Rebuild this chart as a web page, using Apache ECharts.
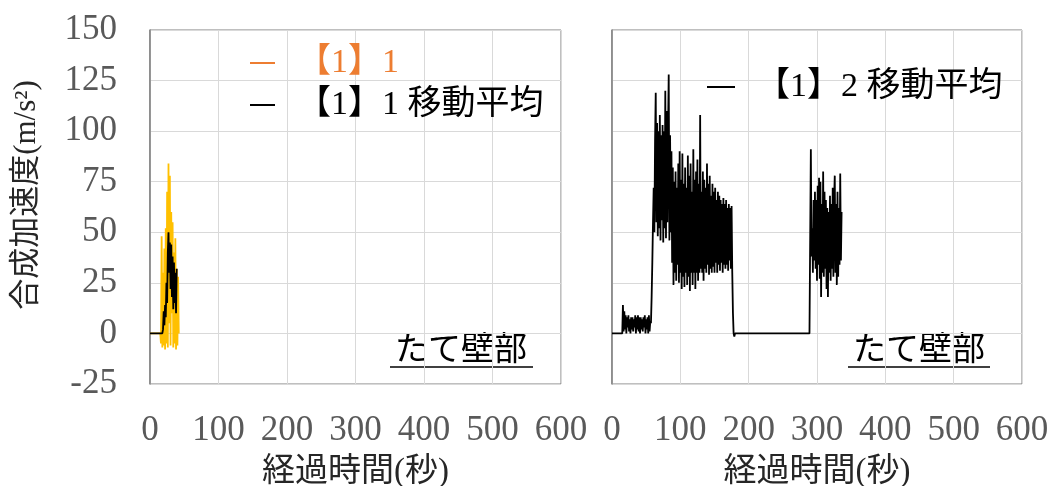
<!DOCTYPE html>
<html>
<head>
<meta charset="utf-8">
<script src="https://cdn.jsdelivr.net/npm/echarts@6/dist/echarts.min.js"></script>
<style>
  html, body { margin: 0; padding: 0; background: #fff; }
  #chart { width: 1053px; height: 486px; }
</style>
</head>
<body>
<div id="chart"></div>
<script>
// 軸の範囲
const X_MIN = 0, X_MAX = 600, X_STEP = 100;
const Y_MIN = -25, Y_MAX = 150, Y_STEP = 25;

// 左: 【1】1 (1秒ごと, 16秒から)
const leftRawStart = 16;
const leftRaw = [-5, 48, -7, 30, -6, 42, -8, 52, -5, 70, -7, 84, 5, 78, -6, 60, 10, 55, -7, 40, -5, 47, -8, 32, -6, 28, 0];
// 左: 【1】1 移動平均 (19秒から)
const leftAvgStart = 19;
const leftAvg = [2, 11, 4, 14, 8, 25, 15, 40, 50, 30, 45, 22, 44, 18, 38, 12, 35, 15, 30, 10, 32];

// 右: 【1】2 移動平均
const rightLowStart = 16;
const rightLow = [14, 1, 11, 2, 9, 0, 8, 3, 9, 1, 7, 0, 8, 2, 8, 1, 7, 3, 9, 0, 8, 2, 9, 1, 8, 0, 8, 2, 7, 1, 8, 3, 9, 0, 7, 2, 8, 0, 9, 1, 6];
const rightMainStart = 57;
const rightMain = [
  5, 18, 35, 55, 72, 50, 95, 119, 55, 104,
  48, 100, 52, 108, 46, 98, 56, 103, 45, 100,
  52, 120, 47, 110, 55, 100, 128, 46, 98, 50,
  90, 35, 82, 24, 75, 30, 80, 26, 72, 34,
  84, 25, 90, 30, 76, 22, 89, 28, 74, 23,
  82, 30, 72, 24, 88, 28, 78, 21, 84, 30,
  70, 24, 91, 30, 76, 22, 80, 30, 86, 26,
  74, 30, 108, 32, 70, 30, 80, 26, 76, 32,
  72, 30, 84, 34, 74, 29, 78, 32, 68, 30,
  74, 33, 70, 30, 72, 35, 66, 30, 70, 34,
  68, 31, 66, 35, 64, 30, 67, 34, 64, 32,
  66, 34, 62, 31, 64, 36, 62, 32, 63, 30,
  10, 0, -1.5, 0
];
const rightIdle = [[181, 0], [289, 0]];
const rightLastStart = 290;
const rightLast = [
  0, 91, 38, 52, 30, 66, 36, 70, 32, 66,
  26, 73, 34, 77, 27, 75, 18, 64, 30, 80,
  28, 70, 32, 66, 22, 62, 18, 60, 30, 68,
  26, 64, 32, 72, 28, 66, 78, 30, 64, 24,
  70, 28, 62, 34, 79, 36, 60
];

function sampled(start, vals) {
  return vals.map((v, i) => [start + i, v]);
}

const SERIF = "'Liberation Serif', 'Noto Sans CJK JP', serif";
const gold = '#FFC000';
const orange = '#ED7D31';

const chart = echarts.init(document.getElementById('chart'));

function xAx(idx) {
  return {
    type: 'value', gridIndex: idx, min: X_MIN, max: X_MAX, interval: X_STEP,
    axisLine: { show: false }, axisTick: { show: false },
    axisLabel: { fontFamily: SERIF, fontSize: 35, color: '#595959', margin: 29 },
    splitLine: { lineStyle: { color: '#d9d9d9', width: 1 } },
    name: '経過時間(秒)', nameLocation: 'middle', nameGap: 72,
    nameTextStyle: { fontFamily: SERIF, fontSize: 33, color: '#262626' }
  };
}
function yAx(idx, labels) {
  return {
    type: 'value', gridIndex: idx, min: Y_MIN, max: Y_MAX, interval: Y_STEP,
    axisLine: { show: true, lineStyle: { color: '#7f7f7f', width: 1.5 } },
    axisTick: { show: false },
    axisLabel: { show: labels, fontFamily: SERIF, fontSize: 35, color: '#595959', margin: 33 },
    splitLine: { lineStyle: { color: '#d9d9d9', width: 1 } }
  };
}

chart.setOption({
  animation: false,
  grid: [
    { left: 150, top: 30, width: 411, height: 354, outerBoundsMode: 'none', show: true, borderColor: '#7f7f7f', borderWidth: 1 },
    { left: 612, top: 30, width: 410, height: 354, outerBoundsMode: 'none', show: true, borderColor: '#7f7f7f', borderWidth: 1 }
  ],
  xAxis: [xAx(0), xAx(1)],
  yAxis: [yAx(0, true), yAx(1, false)],
  legend: [
    {
      left: 245, top: 41, orient: 'vertical', icon: 'rect', itemWidth: 25, itemHeight: 2, itemGap: 8,
      textStyle: { fontFamily: SERIF, fontSize: 34, color: '#000', padding: [0, 0, 0, 17] },
      data: [
        { name: '【1】1', itemStyle: { color: orange }, textStyle: { color: orange } },
        { name: '【1】1 移動平均', itemStyle: { color: '#000' } }
      ]
    },
    {
      left: 702, top: 65, orient: 'vertical', icon: 'rect', itemWidth: 28, itemHeight: 2,
      textStyle: { fontFamily: SERIF, fontSize: 34, color: '#000', padding: [0, 0, 0, 16] },
      data: [{ name: '【1】2 移動平均', itemStyle: { color: '#000' } }]
    }
  ],
  graphic: [
    {
      type: 'text', x: 27, y: 195, rotation: Math.PI / 2,
      style: { text: '合成加速度(m/s²)', font: "31px " + SERIF, fill: '#262626', textAlign: 'center', textVerticalAlign: 'middle' }
    },
    { type: 'text', x: 461, y: 351, style: { text: 'たて壁部', font: "33px " + SERIF, fill: '#000', textAlign: 'center', textVerticalAlign: 'middle' } },
    { type: 'line', shape: { x1: 390, y1: 367, x2: 533, y2: 367 }, style: { stroke: '#000', lineWidth: 1.5 } },
    { type: 'text', x: 919, y: 351, style: { text: 'たて壁部', font: "33px " + SERIF, fill: '#000', textAlign: 'center', textVerticalAlign: 'middle' } },
    { type: 'line', shape: { x1: 848, y1: 367, x2: 990, y2: 367 }, style: { stroke: '#000', lineWidth: 1.5 } }
  ],
  series: [
    {
      name: '【1】1', type: 'line', xAxisIndex: 0, yAxisIndex: 0, showSymbol: false,
      itemStyle: { color: gold }, lineStyle: { color: gold, width: 1.8 },
      data: [[0, 0], [15, 0]].concat(sampled(leftRawStart, leftRaw))
    },
    {
      name: '【1】1 移動平均', type: 'line', xAxisIndex: 0, yAxisIndex: 0, showSymbol: false,
      itemStyle: { color: '#000' }, lineStyle: { color: '#000', width: 1.8 },
      data: [[0, 0], [18, 0]].concat(sampled(leftAvgStart, leftAvg))
    },
    {
      name: '【1】2 移動平均', type: 'line', xAxisIndex: 1, yAxisIndex: 1, showSymbol: false,
      itemStyle: { color: '#000' }, lineStyle: { color: '#000', width: 1.8 },
      data: [[0, 0], [15, 0]]
        .concat(sampled(rightLowStart, rightLow))
        .concat(sampled(rightMainStart, rightMain))
        .concat(rightIdle)
        .concat(sampled(rightLastStart, rightLast))
    }
  ]
});
</script>
</body>
</html>
